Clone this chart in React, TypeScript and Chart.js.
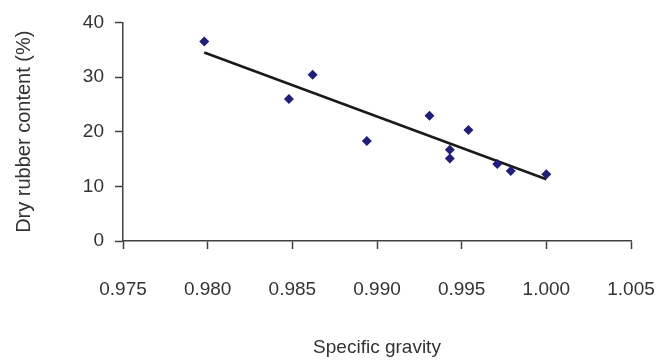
import React, { useEffect, useRef } from "react";
import { Chart, registerables } from "chart.js";

Chart.register(...registerables);

// Data
const specificGravity = [0.9798, 0.9848, 0.9862, 0.9894, 0.9931, 0.9943, 0.9943, 0.9954, 0.9971, 0.9979, 1.0];
const dryRubberContent = [36.5, 26.0, 30.4, 18.3, 22.9, 16.7, 15.1, 20.3, 14.1, 12.8, 12.2];

// Linear trend line end points
const trendX = [0.9798, 1.0];
const trendY = [34.5, 11.3];

const xTickValues = [0.975, 0.98, 0.985, 0.99, 0.995, 1.0, 1.005];
const yTickValues = [0, 10, 20, 30, 40];

const xTitle = "Specific gravity";
const yTitle = "Dry rubber content (%)";

const FONT = "'Liberation Sans', Arial, Helvetica, sans-serif";
const TEXT = "#333333";
const AXIS = "#404040";

export default function App() {
  const ref = useRef<HTMLCanvasElement | null>(null);

  useEffect(() => {
    if (!ref.current) return;
    const chart = new Chart(ref.current, {
      type: "scatter",
      data: {
        datasets: [
          {
            label: "Trend",
            type: "line",
            data: trendX.map((x, i) => ({ x, y: trendY[i] })),
            borderColor: "#1a1a1a",
            borderWidth: 2.5,
            pointRadius: 0,
            showLine: true,
            fill: false,
            order: 2,
          } as any,
          {
            label: "Samples",
            data: specificGravity.map((x, i) => ({ x, y: dryRubberContent[i] })),
            pointStyle: "rectRot",
            pointRadius: 5,
            pointBackgroundColor: "#1f1f78",
            pointBorderColor: "#1f1f78",
            pointBorderWidth: 0,
            order: 1,
          },
        ],
      },
      options: {
        responsive: false,
        animation: false,
        layout: { padding: { top: 18, right: 28, left: 0, bottom: 0 } },
        plugins: { legend: { display: false }, tooltip: { enabled: false } },
        scales: {
          x: {
            type: "linear",
            min: 0.975,
            max: 1.005,
            afterBuildTicks: (scale: any) => {
              scale.ticks = xTickValues.map((v) => ({ value: v }));
            },
            afterFit: (scale: any) => {
              scale.height = 120;
              scale.paddingLeft = 0;
              scale.paddingRight = 0;
            },
            ticks: {
              callback: (v: any) => Number(v).toFixed(3),
              font: { family: FONT, size: 19 },
              color: TEXT,
              padding: 29,
              maxRotation: 0,
              autoSkip: false,
            },
            grid: {
              drawOnChartArea: false,
              drawTicks: true,
              tickLength: 8,
              tickColor: AXIS,
              tickWidth: 1.5,
            },
            border: { display: true, color: AXIS, width: 1.5 },
            title: {
              display: true,
              text: xTitle,
              font: { family: FONT, size: 19 },
              color: TEXT,
              padding: { top: 0, bottom: 2 },
            },
          },
          y: {
            type: "linear",
            min: 0,
            max: 40,
            afterBuildTicks: (scale: any) => {
              scale.ticks = yTickValues.map((v) => ({ value: v }));
            },
            afterFit: (scale: any) => {
              scale.width = 123;
            },
            ticks: {
              font: { family: FONT, size: 19 },
              color: TEXT,
              padding: 11,
            },
            grid: {
              drawOnChartArea: false,
              drawTicks: true,
              tickLength: 8,
              tickColor: AXIS,
              tickWidth: 1.5,
            },
            border: { display: true, color: AXIS, width: 1.5 },
            title: {
              display: true,
              text: yTitle,
              font: { family: FONT, size: 20 },
              color: TEXT,
              padding: { top: 12, bottom: 0 },
            },
          },
        },
      },
    });
    return () => chart.destroy();
  }, []);

  return (
    <div style={{ position: "absolute", left: 0, top: 0, width: 659, height: 361, background: "#fff" }}>
      <canvas ref={ref} width={659} height={361} style={{ display: "block" }} />
    </div>
  );
}
